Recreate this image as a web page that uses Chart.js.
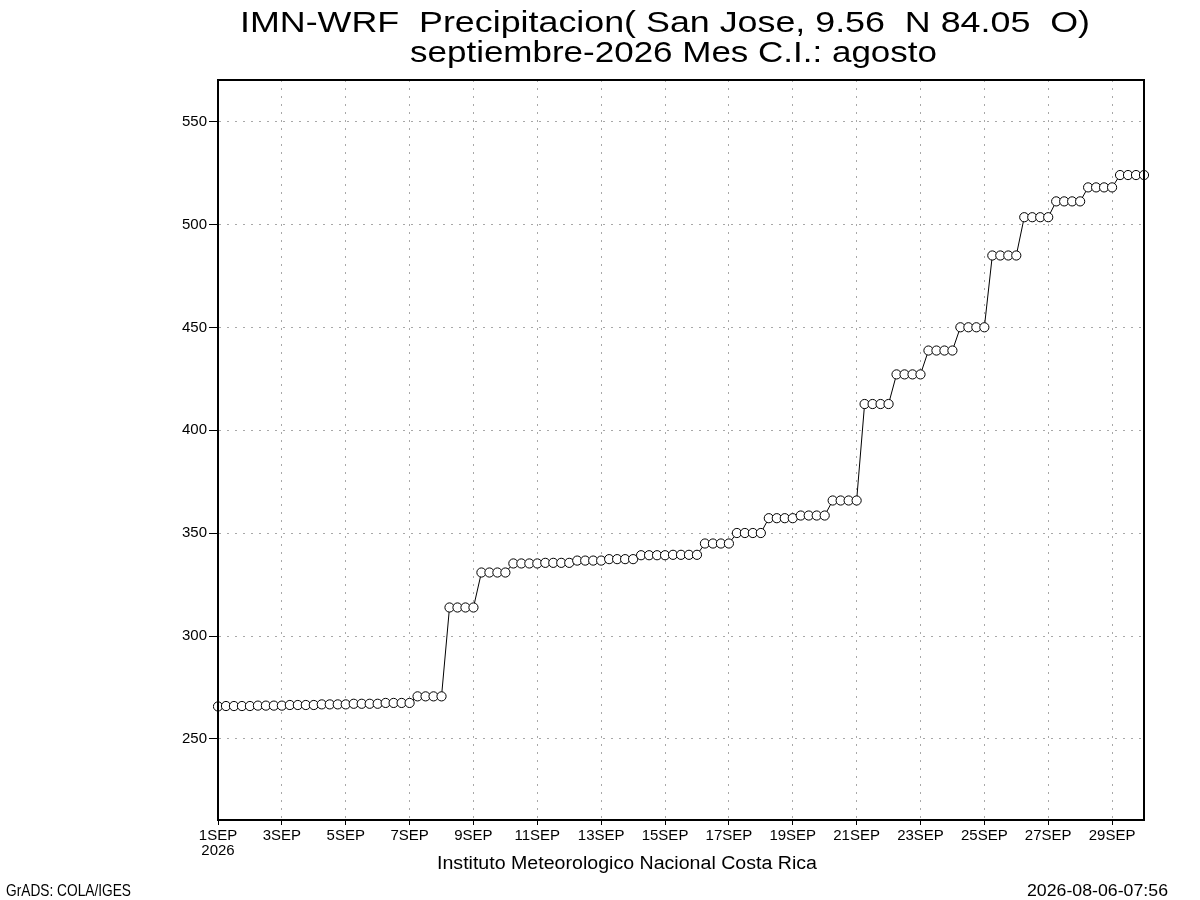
<!DOCTYPE html>
<html>
<head>
<meta charset="utf-8">
<title>IMN-WRF Precipitacion San Jose</title>
<script src="https://cdn.jsdelivr.net/npm/chart.js@4.4.1/dist/chart.umd.min.js"></script>
<style>
    html, body { margin: 0; padding: 0; background: #ffffff; }
    #canvas-precip { display: block; }
</style>
</head>
<body>
<canvas id="canvas-precip" width="1200" height="900"></canvas>
<script>
'use strict';

/* global Chart */

// Textos del grafico
const titulo1 = 'IMN-WRF  Precipitacion( San Jose, 9.56  N 84.05  O)';
const titulo2 = 'septiembre-2026 Mes C.I.: agosto';
const textoInstituto = 'Instituto Meteorologico Nacional Costa Rica';
const textoGrads = 'GrADS: COLA/IGES';
const textoFecha = '2026-08-06-07:56';

// Eje X : dias desde el 1SEP 00Z
const xTicksPos = [0, 2, 4, 6, 8, 10, 12, 14, 16, 18, 20, 22, 24, 26, 28];
const xTicksLabels = ['1SEP', '3SEP', '5SEP', '7SEP', '9SEP', '11SEP', '13SEP', '15SEP',
    '17SEP', '19SEP', '21SEP', '23SEP', '25SEP', '27SEP', '29SEP'];
const anio = '2026';

// Eje Y
const yTicks = [250, 300, 350, 400, 450, 500, 550];

// Precipitacion acumulada (mm), un valor cada 6 horas
const precip = [
    265.8,
    266.0, 266.0, 266.0, 266.0,   // 1SEP
    266.2, 266.2, 266.2, 266.2,   // 2SEP
    266.5, 266.5, 266.5, 266.5,   // 3SEP
    266.8, 266.8, 266.8, 266.8,   // 4SEP
    267.1, 267.1, 267.1, 267.1,   // 5SEP
    267.5, 267.5, 267.5, 267.5,   // 6SEP
    270.7, 270.7, 270.7, 270.7,   // 7SEP
    313.9, 313.9, 313.9, 313.9,   // 8SEP
    330.9, 330.9, 330.9, 330.9,   // 9SEP
    335.3, 335.3, 335.3, 335.3,   // 10SEP
    335.6, 335.6, 335.6, 335.6,   // 11SEP
    336.7, 336.7, 336.7, 336.7,   // 12SEP
    337.4, 337.4, 337.4, 337.4,   // 13SEP
    339.3, 339.3, 339.3, 339.3,   // 14SEP
    339.5, 339.5, 339.5, 339.5,   // 15SEP
    345.0, 345.0, 345.0, 345.0,   // 16SEP
    350.1, 350.1, 350.1, 350.1,   // 17SEP
    357.3, 357.3, 357.3, 357.3,   // 18SEP
    358.6, 358.6, 358.6, 358.6,   // 19SEP
    365.9, 365.9, 365.9, 365.9,   // 20SEP
    412.8, 412.8, 412.8, 412.8,   // 21SEP
    427.2, 427.2, 427.2, 427.2,   // 22SEP
    438.8, 438.8, 438.8, 438.8,   // 23SEP
    450.1, 450.1, 450.1, 450.1,   // 24SEP
    485.0, 485.0, 485.0, 485.0,   // 25SEP
    503.6, 503.6, 503.6, 503.6,   // 26SEP
    511.3, 511.3, 511.3, 511.3,   // 27SEP
    518.1, 518.1, 518.1, 518.1,   // 28SEP
    524.1, 524.1, 524.1, 524.1    // 29SEP
];

const fuente = '"Liberation Sans", Arial, sans-serif';

// dibuja un texto estirado al ancho que tiene en el original
function textoAjustado(ctx, texto, x, y, ancho, tam) {
    ctx.save();
    ctx.font = tam + 'px ' + fuente;
    ctx.fillStyle = '#000000';
    ctx.textBaseline = 'alphabetic';
    ctx.textAlign = 'left';
    const w = ctx.measureText(texto).width;
    ctx.translate(x, y);
    ctx.scale(ancho / w, 1);
    ctx.fillText(texto, 0, 0);
    ctx.restore();
}

const pluginTextos = {
    id: 'textos',
    afterDraw(chart) {
        const ctx = chart.ctx;
        textoAjustado(ctx, titulo1, 240, 32, 850, 30);
        textoAjustado(ctx, titulo2, 410, 62, 527, 30);
        textoAjustado(ctx, textoInstituto, 437, 869, 380, 18);
        textoAjustado(ctx, textoGrads, 6, 896, 125, 17);
        textoAjustado(ctx, textoFecha, 1027, 896, 141, 17);
    }
};

// marco negro alrededor del area del grafico
const pluginMarco = {
    id: 'marco',
    afterDatasetsDraw(chart) {
        const a = chart.chartArea;
        const ctx = chart.ctx;
        ctx.save();
        ctx.strokeStyle = '#000000';
        ctx.lineWidth = 2;
        ctx.strokeRect(a.left, a.top, a.right - a.left, a.bottom - a.top);
        ctx.restore();
    }
};

document.addEventListener('DOMContentLoaded', function () {
    const ctx = document.getElementById('canvas-precip').getContext('2d');

    const puntos = precip.map((v, i) => ({ x: i / 4, y: v }));

    // eslint-disable-next-line no-unused-vars
    let graf = new Chart(ctx, {
        type: 'line',
        data: {
            datasets: [{
                label: 'Precipitacion',
                data: puntos,
                borderColor: '#000000',
                borderWidth: 1,
                tension: 0,
                pointRadius: 4.6,
                pointBackgroundColor: '#ffffff',
                pointBorderColor: '#000000',
                pointBorderWidth: 1,
                clip: 5
            }]
        },
        options: {
            responsive: false,
            devicePixelRatio: 1,
            animation: false,
            events: [],
            layout: {
                autoPadding: false,
                padding: { left: 0, top: 80, right: 56, bottom: 0 }
            },
            plugins: {
                legend: { display: false },
                tooltip: { enabled: false },
                title: { display: false }
            },
            scales: {
                x: {
                    type: 'linear',
                    min: 0,
                    max: 29,
                    afterBuildTicks: (scale) => {
                        scale.ticks = xTicksPos.map(v => ({ value: v }));
                    },
                    afterFit: (scale) => { scale.height = 80; },
                    ticks: {
                        autoSkip: false,
                        maxRotation: 0,
                        padding: 3,
                        color: '#000000',
                        font: { family: fuente, size: 15, lineHeight: 1.0 },
                        callback: function (value, index) {
                            if (index === 0) {
                                return [xTicksLabels[0], anio];
                            }
                            return xTicksLabels[index];
                        }
                    },
                    grid: {
                        color: '#a8a8a8',
                        lineWidth: 1,
                        tickLength: 5,
                        tickColor: '#000000',
                        tickBorderDash: []
                    },
                    border: { display: true, color: '#000000', width: 2, dash: [2, 6] }
                },
                y: {
                    type: 'linear',
                    min: 210.6,
                    max: 570.3,
                    afterBuildTicks: (scale) => {
                        scale.ticks = yTicks.map(v => ({ value: v }));
                    },
                    afterFit: (scale) => { scale.width = 218; },
                    ticks: {
                        padding: 2,
                        color: '#000000',
                        font: { family: fuente, size: 15 },
                        callback: (value) => String(value)
                    },
                    grid: {
                        color: '#a8a8a8',
                        lineWidth: 1,
                        tickLength: 9,
                        tickColor: '#000000',
                        tickBorderDash: []
                    },
                    border: { display: true, color: '#000000', width: 2, dash: [2, 6] }
                }
            }
        },
        plugins: [pluginTextos, pluginMarco]
    });
});
</script>
</body>
</html>
